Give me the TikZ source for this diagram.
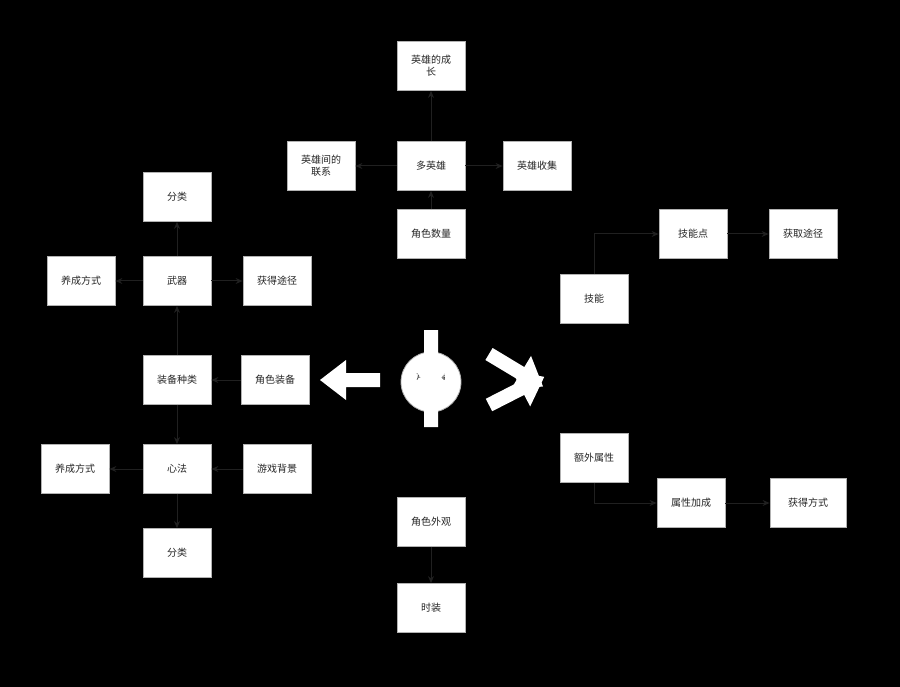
\documentclass[tikz,border=0pt]{standalone}
\usepackage{fontspec}
\setmainfont{Noto Sans CJK SC}
\usetikzlibrary{arrows.meta}
\begin{document}
\begin{tikzpicture}[x=1pt,y=-1pt,
  box/.style={draw=gray!60,line width=0.8pt,fill=white,minimum width=68pt,minimum height=49pt,align=center,font=\fontsize{10}{12}\selectfont,text=black!85,inner sep=2pt},
  con/.style={draw=black!75!gray,line width=1pt,-{Stealth[length=7pt,width=6pt]}}]
\fill[black] (0,0) rectangle (900,687);
\useasboundingbox (0,0) rectangle (900,687);
\newcommand\bigarr[3]{\fill[white,shift={(#1)},rotate=#2] (0,-7) -- (#3-26,-7) -- (#3-26,-20) -- (#3,0) -- (#3-26,20) -- (#3-26,7) -- (0,7) -- cycle;}
\node[box] (czc) at (431,66) {英雄的成\\长};
\node[box] (lx) at (321,166) {英雄间的\\联系};
\node[box] (dyx) at (431,166) {多英雄};
\node[box] (sj) at (537,166) {英雄收集};
\node[box] (sl) at (431,234) {角色数量};
\node[box] (fl1) at (177,197) {分类};
\node[box] (yc1) at (81,281) {养成方式};
\node[box] (wq) at (177,281) {武器};
\node[box] (hd1) at (277,281) {获得途径};
\node[box] (zb) at (177,380) {装备种类};
\node[box] (jszb) at (275,380) {角色装备};
\node[box] (yc2) at (75,469) {养成方式};
\node[box] (xf) at (177,469) {心法};
\node[box] (bj) at (277,469) {游戏背景};
\node[box] (fl2) at (177,553) {分类};
\node[circle,draw=gray!60,line width=0.8pt,fill=white,minimum size=60pt,inner sep=1pt,align=center,font=\fontsize{10}{12}\selectfont,text=black!85] (c) at (431,382) {角色属\\性};
\node[box] (wg) at (431,522) {角色外观};
\node[box] (sz) at (431,608) {时装};
\node[box] (jn) at (594,299) {技能};
\node[box] (jnd) at (693,234) {技能点};
\node[box] (hq) at (803,234) {获取途径};
\node[box] (ew) at (594,458) {额外属性};
\node[box] (jc) at (691,503) {属性加成};
\node[box,minimum width=76pt] (hdfs) at (808,503) {获得方式};
\draw[con] (dyx) -- (czc);
\draw[con] (dyx) -- (lx);
\draw[con] (dyx) -- (sj);
\draw[con] (sl) -- (dyx);
\draw[con] (wq) -- (fl1);
\draw[con] (wq) -- (yc1);
\draw[con] (wq) -- (hd1);
\draw[con] (zb) -- (wq);
\draw[con] (jszb) -- (zb);
\draw[con] (zb) -- (xf);
\draw[con] (xf) -- (yc2);
\draw[con] (bj) -- (xf);
\draw[con] (xf) -- (fl2);
\draw[con] (wg) -- (sz);
\draw[con] (jn.north) |- (jnd.west);
\draw[con] (jnd) -- (hq);
\draw[con] (ew.south) |- (jc.west);
\draw[con] (jc) -- (hdfs);
\bigarr{431,330}{-90}{61}
\bigarr{380,380}{180}{60}
\bigarr{431,427}{90}{63}
\bigarr{489,354}{-31}{63}
\bigarr{489,405}{27}{62}
\end{tikzpicture}
\end{document}
